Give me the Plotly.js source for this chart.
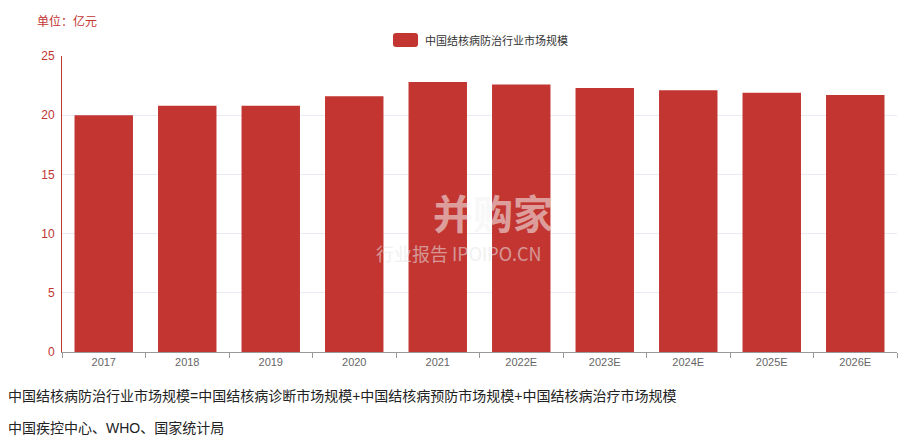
<!DOCTYPE html>
<html>
<head>
<meta charset="utf-8">
<script src="https://cdn.plot.ly/plotly-3.0.1.min.js"></script>
<style>html,body{margin:0;padding:0;background:#fff;}#chart{width:919px;height:444px;}</style>
</head>
<body>
<div id="chart"></div>
<script>
const categories = ["2017","2018","2019","2020","2021","2022E","2023E","2024E","2025E","2026E"];
const marketSize = [20.0, 20.8, 20.8, 21.6, 22.8, 22.6, 22.3, 22.1, 21.9, 21.7];
const seriesName = "中国结核病防治行业市场规模";
const unitLabel = "单位：亿元";
const noteText = "中国结核病防治行业市场规模=中国结核病诊断市场规模+中国结核病预防市场规模+中国结核病治疗市场规模";
const sourceText = "中国疾控中心、WHO、国家统计局";
const yTicks = [0, 5, 10, 15, 20, 25];

const font = '"Liberation Sans", "Noto Sans CJK SC", sans-serif';
const red = '#c23531';

const trace = {
  type: 'bar',
  x: categories,
  y: marketSize,
  name: seriesName,
  marker: {color: red, line: {width: 0}},
  hoverinfo: 'x+y',
  showlegend: false
};

const W = 919 - 62 - 22, H = 444 - 56 - 92;
function px(x){ return (x - 62) / W; }
function py(y){ return (352 - y) / H; }
const lx0 = px(393), lx1 = px(418), ly0 = py(47), ly1 = py(33), r = 3;
const rx = r / W, ry = r / H;
const legendPath = `M ${lx0+rx} ${ly0} L ${lx1-rx} ${ly0} Q ${lx1} ${ly0} ${lx1} ${ly0+ry} L ${lx1} ${ly1-ry} Q ${lx1} ${ly1} ${lx1-rx} ${ly1} L ${lx0+rx} ${ly1} Q ${lx0} ${ly1} ${lx0} ${ly1-ry} L ${lx0} ${ly0+ry} Q ${lx0} ${ly0} ${lx0+rx} ${ly0} Z`;

const layout = {
  width: 919, height: 444,
  margin: {l: 62, r: 22, t: 56, b: 92},
  paper_bgcolor: '#fff', plot_bgcolor: '#fff',
  font: {family: font, size: 12, color: '#333'},
  bargap: 0.3,
  showlegend: false,
  xaxis: {
    type: 'category',
    showline: true, linecolor: '#999', linewidth: 1,
    ticks: 'outside', tickson: 'boundaries', ticklen: 5, tickcolor: '#999',
    tickfont: {size: 11, color: '#666', family: font},
    showgrid: false, zeroline: false
  },
  yaxis: {
    range: [0, 25],
    tickvals: yTicks,
    showline: true, linecolor: red, linewidth: 1,
    ticks: '', tickfont: {size: 12, color: red, family: font},
    gridcolor: '#e8ebf2', gridwidth: 1, zeroline: false,
    ticklabelstandoff: 4
  },
  shapes: [
    {type: 'path', xref: 'paper', yref: 'paper', path: legendPath, fillcolor: red, line: {width: 0}}
  ],
  annotations: [
    {text: seriesName, xref: 'paper', yref: 'paper', x: px(423), y: py(40), xanchor: 'left', yanchor: 'middle',
     showarrow: false, font: {size: 11, color: '#333', family: font}},
    {text: unitLabel, xref: 'paper', yref: 'paper', x: px(35), y: py(22), xanchor: 'left', yanchor: 'middle',
     showarrow: false, font: {size: 12, color: red, family: font}},
    {text: noteText, xref: 'paper', yref: 'paper', x: px(6), y: py(396), xanchor: 'left', yanchor: 'middle',
     showarrow: false, font: {size: 14, color: '#222', family: font}},
    {text: sourceText, xref: 'paper', yref: 'paper', x: px(6), y: py(428), xanchor: 'left', yanchor: 'middle',
     showarrow: false, font: {size: 14, color: '#222', family: font}},
    {text: '<b>并购家</b>', xref: 'paper', yref: 'paper', x: px(493), y: py(212), xanchor: 'center', yanchor: 'middle',
     showarrow: false, opacity: 0.55, font: {size: 40, color: '#f3f3f3', family: '"Noto Sans CJK SC", sans-serif'}},
    {text: '行业报告 IPOIPO.CN', xref: 'paper', yref: 'paper', x: px(459), y: py(253), xanchor: 'center', yanchor: 'middle',
     showarrow: false, opacity: 0.55, font: {size: 18, color: '#e6e6e6', family: '"Noto Sans CJK SC", sans-serif'}}
  ]
};

Plotly.newPlot('chart', [trace], layout, {displayModeBar: false, staticPlot: true});
</script>
</body>
</html>
